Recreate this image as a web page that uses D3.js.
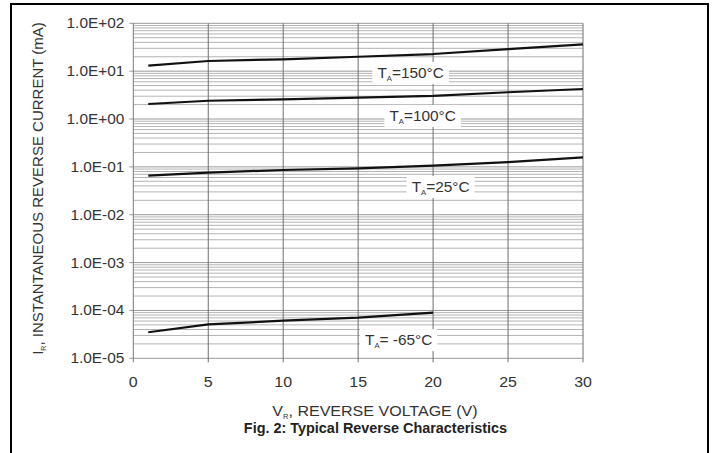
<!DOCTYPE html>
<html><head><meta charset="utf-8">
<script src="https://cdn.jsdelivr.net/npm/d3@7"></script>
<style>html,body{margin:0;padding:0;background:#fff}svg{display:block}</style>
</head><body>
<svg id="c" width="714" height="453"></svg>
<script>
// ---- data ----
const voltages = [1, 5, 10, 15, 20, 25, 30];
const current150 = [13.0, 16.3, 17.7, 20.0, 22.8, 29.0, 36.4];
const current100 = [2.06, 2.41, 2.58, 2.79, 3.05, 3.62, 4.24];
const current25 = [0.0655, 0.0757, 0.0861, 0.0933, 0.106, 0.126, 0.158];
const voltagesM65 = [1, 5, 10, 15, 20];
const currentM65 = [3.5e-5, 5.1e-5, 6.1e-5, 7.1e-5, 9.0e-5];
const seriesNames = ["150°C", "100°C", "25°C", " -65°C"];
const labelAnchorV = [18.5, 19.3, 20.5, 17.7];
const labelAnchorI = [9.16, 1.16, 0.038, 2.4e-5];
const xTicks = [0, 5, 10, 15, 20, 25, 30];
const yTicks = [1e-5, 1e-4, 1e-3, 1e-2, 1e-1, 1, 10, 100];
const yTickLabels = ["1.0E-05", "1.0E-04", "1.0E-03", "1.0E-02", "1.0E-01", "1.0E+00", "1.0E+01", "1.0E+02"];

// ---- layout ----
const L = 133.3, R = 583, T = 23.3, B = 358.3;
const svg = d3.select("#c");
const x = d3.scaleLinear().domain([0, 30]).range([L, R]);
const y = d3.scaleLog().domain([1e-5, 100]).range([B, T]);
const SX = 1.1;
const txtCol = "#333";

// frame
svg.append("rect").attr("x", 11).attr("y", 4).attr("width", 697).attr("height", 470)
  .attr("fill", "none").attr("stroke", "#000").attr("stroke-width", 2);

const g = svg.append("g");
// minor horizontal grid
const minor = [];
for (let d = -5; d < 2; d++) for (let k = 2; k <= 9; k++) minor.push(k * Math.pow(10, d));
g.selectAll(".minor").data(minor).join("line")
  .attr("x1", L).attr("x2", R).attr("y1", d => y(d)).attr("y2", d => y(d))
  .attr("stroke", "#b4b4b4").attr("stroke-width", 1);
// major horizontal grid
g.selectAll(".major").data(yTicks).join("line")
  .attr("x1", L - 4).attr("x2", R).attr("y1", d => y(d)).attr("y2", d => y(d))
  .attr("stroke", "#9a9a9a").attr("stroke-width", 1);
// vertical grid
g.selectAll(".vg").data(xTicks.slice(1)).join("line")
  .attr("x1", d => x(d)).attr("x2", d => x(d)).attr("y1", T).attr("y2", B + 4)
  .attr("stroke", "#6e6e6e").attr("stroke-width", 1);
// left axis
g.append("line").attr("x1", L).attr("x2", L).attr("y1", T).attr("y2", B + 4)
  .attr("stroke", "#7a7a7a").attr("stroke-width", 1);

// y tick labels
yTicks.forEach((v, i) => {
  svg.append("text").attr("transform", `translate(${L - 9},${y(v)}) scale(${SX},1)`)
    .attr("text-anchor", "end").attr("dy", "0.36em")
    .attr("font-family", "Liberation Sans, Arial, sans-serif").attr("font-size", 14)
    .attr("fill", txtCol).text(yTickLabels[i]);
});
// x tick labels
xTicks.forEach(v => {
  svg.append("text").attr("transform", `translate(${x(v)},387) scale(${SX},1)`)
    .attr("text-anchor", "middle")
    .attr("font-family", "Liberation Sans, Arial, sans-serif").attr("font-size", 14.5)
    .attr("fill", txtCol).text(v);
});

// curves
const line = d3.line().x(d => x(d[0])).y(d => y(d[1]));
const series = [
  d3.zip(voltages, current150),
  d3.zip(voltages, current100),
  d3.zip(voltages, current25),
  d3.zip(voltagesM65, currentM65)
];
svg.selectAll(".curve").data(series).join("path")
  .attr("d", line).attr("fill", "none").attr("stroke", "#111").attr("stroke-width", 2.2)
  .attr("stroke-linejoin", "round");

// series labels
seriesNames.forEach((name, i) => {
  const cx = x(labelAnchorV[i]), cy = y(labelAnchorI[i]);
  const gl = svg.append("g").attr("transform", `translate(${cx},${cy})`);
  const rect = gl.append("rect").attr("fill", "#fff");
  const t = gl.append("text").attr("transform", `scale(${SX},1)`)
    .attr("text-anchor", "middle").attr("dy", "0.36em")
    .attr("font-family", "Liberation Sans, Arial, sans-serif").attr("font-size", 14)
    .attr("fill", txtCol);
  t.append("tspan").text("T");
  t.append("tspan").attr("font-size", 7).attr("dy", 3).text("A");
  t.append("tspan").attr("dy", -3).text("=" + name);
  const w = t.node().getComputedTextLength() * SX;
  rect.attr("x", -w / 2 - 5).attr("y", -11).attr("width", w + 10).attr("height", 22);
});

// axis titles
const xt = svg.append("text").attr("transform", `translate(375,416) scale(1.07,1)`)
  .attr("text-anchor", "middle")
  .attr("font-family", "Liberation Sans, Arial, sans-serif").attr("font-size", 15)
  .attr("fill", txtCol);
xt.append("tspan").text("V");
xt.append("tspan").attr("font-size", 7).attr("dy", 3).text("R");
xt.append("tspan").attr("dy", -3).text(", REVERSE VOLTAGE (V)");

const yt = svg.append("text").attr("transform", `translate(43,188.5) rotate(-90)`)
  .attr("text-anchor", "middle")
  .attr("font-family", "Liberation Sans, Arial, sans-serif").attr("font-size", 15)
  .attr("fill", txtCol);
yt.append("tspan").text("I");
yt.append("tspan").attr("font-size", 7).attr("dy", 3).text("R");
yt.append("tspan").attr("dy", -3).text(", INSTANTANEOUS REVERSE CURRENT (mA)");

svg.append("text").attr("transform", `translate(375.5,433) scale(1.03,1)`)
  .attr("text-anchor", "middle")
  .attr("font-family", "Liberation Sans, Arial, sans-serif").attr("font-size", 14)
  .attr("font-weight", "bold").attr("fill", "#222")
  .text("Fig. 2: Typical Reverse Characteristics");
</script>
</body></html>
